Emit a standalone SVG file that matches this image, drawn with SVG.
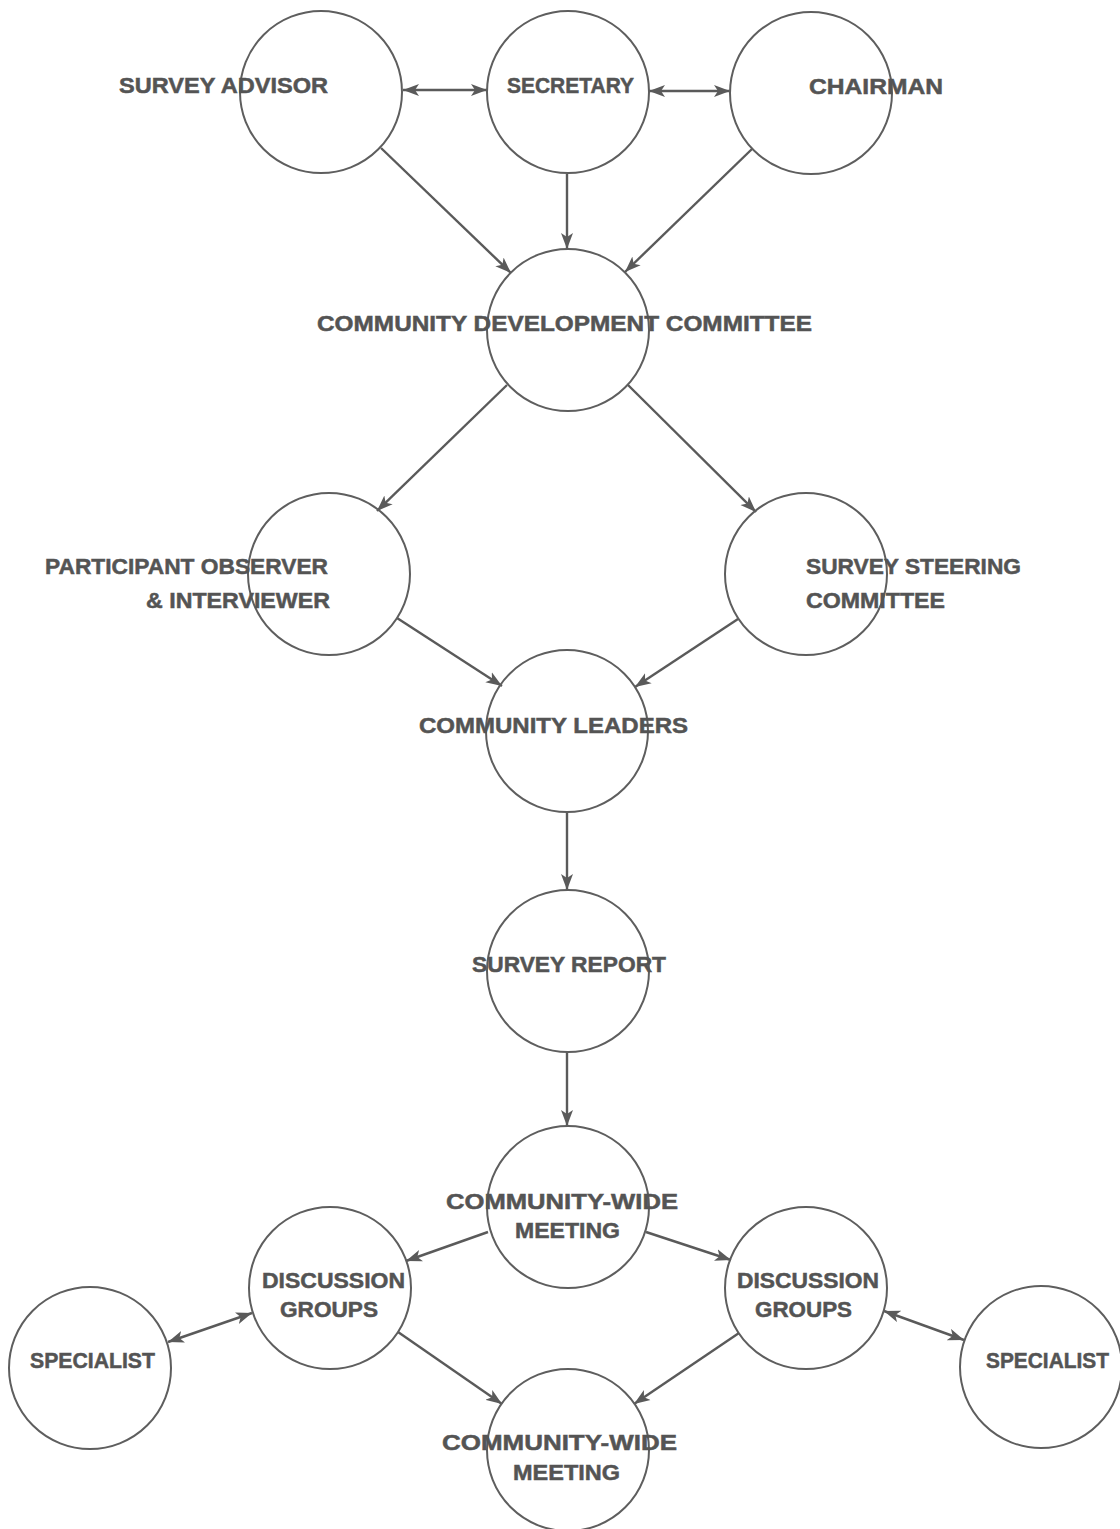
<svg xmlns="http://www.w3.org/2000/svg" width="1120" height="1529" viewBox="0 0 1120 1529">
<style>
.node circle{fill:none;stroke:#5e5e5e;stroke-width:2}
.lbl{font-family:"Liberation Sans",Arial,sans-serif;font-weight:bold;font-size:22.5px;fill:#545454;stroke:#545454;stroke-width:0.5}
#connectors line{stroke:#5a5a5a;stroke-width:2.4;fill:none}
.one{marker-end:url(#ah)}
.two{marker-end:url(#ah);marker-start:url(#ah)}
</style>
<defs>
<marker id="ah" markerUnits="userSpaceOnUse" markerWidth="17" markerHeight="13" viewBox="0 0 17 13" refX="16" refY="6.5" orient="auto-start-reverse">
<path d="M0,0.5 L16,6.5 L0,12.5 L4,6.5 Z" fill="#5a5a5a"/>
</marker>
</defs>
<rect width="1120" height="1529" fill="#ffffff"/>
<g id="connectors">
<line class="two" x1="403" y1="90" x2="487" y2="90"/>
<line class="two" x1="649" y1="91" x2="730" y2="91"/>
<line class="one" x1="381" y1="148" x2="511" y2="273"/>
<line class="one" x1="567" y1="174" x2="567" y2="249"/>
<line class="one" x1="752" y1="149" x2="625" y2="272"/>
<line class="one" x1="507" y1="385" x2="377" y2="511"/>
<line class="one" x1="628" y1="385" x2="756" y2="512"/>
<line class="one" x1="397" y1="618" x2="502" y2="686"/>
<line class="one" x1="738" y1="619" x2="635" y2="687"/>
<line class="one" x1="567" y1="812" x2="567" y2="890"/>
<line class="one" x1="567" y1="1052" x2="567" y2="1126"/>
<line class="one" x1="488" y1="1232" x2="406" y2="1261"/>
<line class="one" x1="646" y1="1232" x2="731" y2="1260"/>
<line class="one" x1="398" y1="1332" x2="502" y2="1404"/>
<line class="one" x1="739" y1="1333" x2="634" y2="1404"/>
<line class="two" x1="168" y1="1342" x2="252" y2="1313"/>
<line class="two" x1="884" y1="1311" x2="964" y2="1340"/>
</g>
<g id="survey-advisor" class="node"><circle cx="321" cy="92" r="81"/><text class="lbl" x="119" y="93" textLength="209" lengthAdjust="spacingAndGlyphs">SURVEY ADVISOR</text></g>
<g id="secretary" class="node"><circle cx="568" cy="92" r="81"/><text class="lbl" x="507" y="93" textLength="127" lengthAdjust="spacingAndGlyphs">SECRETARY</text></g>
<g id="chairman" class="node"><circle cx="811" cy="93" r="81"/><text class="lbl" x="809" y="94" textLength="134" lengthAdjust="spacingAndGlyphs">CHAIRMAN</text></g>
<g id="cdc" class="node"><circle cx="568" cy="330" r="81"/><text class="lbl" x="317" y="331" textLength="495" lengthAdjust="spacingAndGlyphs">COMMUNITY DEVELOPMENT COMMITTEE</text></g>
<g id="participant" class="node"><circle cx="329" cy="574" r="81"/><text class="lbl" x="45" y="574" textLength="283" lengthAdjust="spacingAndGlyphs">PARTICIPANT OBSERVER</text><text class="lbl" x="146" y="608" textLength="184" lengthAdjust="spacingAndGlyphs">&amp; INTERVIEWER</text></g>
<g id="steering" class="node"><circle cx="806" cy="574" r="81"/><text class="lbl" x="806" y="574" textLength="215" lengthAdjust="spacingAndGlyphs">SURVEY STEERING</text><text class="lbl" x="806" y="608" textLength="139" lengthAdjust="spacingAndGlyphs">COMMITTEE</text></g>
<g id="leaders" class="node"><circle cx="567" cy="731" r="81"/><text class="lbl" x="419" y="733" textLength="269" lengthAdjust="spacingAndGlyphs">COMMUNITY LEADERS</text></g>
<g id="report" class="node"><circle cx="568" cy="971" r="81"/><text class="lbl" x="472" y="972" textLength="194" lengthAdjust="spacingAndGlyphs">SURVEY REPORT</text></g>
<g id="cwm-top" class="node"><circle cx="568" cy="1207" r="81"/><text class="lbl" x="446" y="1209" textLength="232" lengthAdjust="spacingAndGlyphs">COMMUNITY-WIDE</text><text class="lbl" x="515" y="1238" textLength="105" lengthAdjust="spacingAndGlyphs">MEETING</text></g>
<g id="dg-left" class="node"><circle cx="330" cy="1288" r="81"/><text class="lbl" x="262" y="1288" textLength="143" lengthAdjust="spacingAndGlyphs">DISCUSSION</text><text class="lbl" x="280" y="1317" textLength="98" lengthAdjust="spacingAndGlyphs">GROUPS</text></g>
<g id="dg-right" class="node"><circle cx="806" cy="1288" r="81"/><text class="lbl" x="737" y="1288" textLength="142" lengthAdjust="spacingAndGlyphs">DISCUSSION</text><text class="lbl" x="755" y="1317" textLength="97" lengthAdjust="spacingAndGlyphs">GROUPS</text></g>
<g id="specialist-left" class="node"><circle cx="90" cy="1368" r="81"/><text class="lbl" x="30" y="1368" textLength="125" lengthAdjust="spacingAndGlyphs">SPECIALIST</text></g>
<g id="specialist-right" class="node"><circle cx="1041" cy="1367" r="81"/><text class="lbl" x="986" y="1368" textLength="123" lengthAdjust="spacingAndGlyphs">SPECIALIST</text></g>
<g id="cwm-bottom" class="node"><circle cx="568" cy="1450" r="81"/><text class="lbl" x="442" y="1450" textLength="235" lengthAdjust="spacingAndGlyphs">COMMUNITY-WIDE</text><text class="lbl" x="513" y="1480" textLength="107" lengthAdjust="spacingAndGlyphs">MEETING</text></g>
</svg>
